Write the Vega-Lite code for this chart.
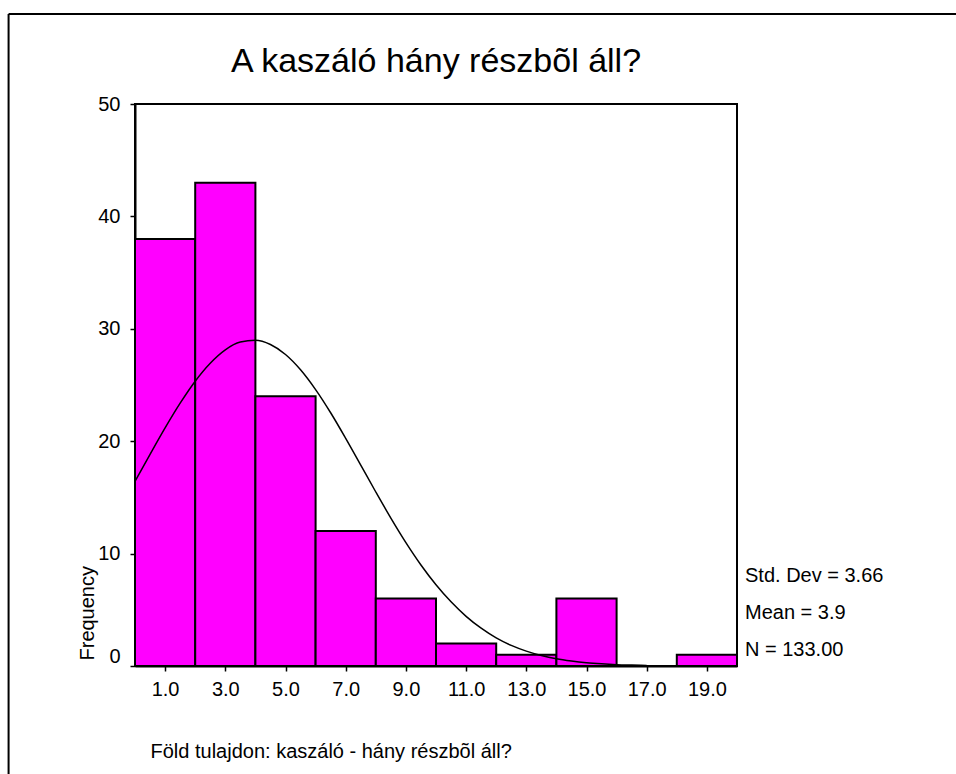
{
  "$schema": "https://vega.github.io/schema/vega-lite/v6.json",
  "width": 602,
  "height": 562,
  "autosize": {"type": "none"},
  "padding": {"left": 135, "top": 104, "right": 219, "bottom": 108},
  "background": "white",
  "title": {
    "text": "A kaszáló hány részbõl áll?",
    "font": "Liberation Sans",
    "fontSize": 34,
    "fontWeight": "normal",
    "color": "black",
    "anchor": "middle",
    "frame": "group",
    "offset": -66
  },
  "config": {
    "view": {"stroke": "black", "strokeWidth": 2},
    "font": "Liberation Sans",
    "axis": {
      "grid": false,
      "domainColor": "black",
      "domainWidth": 2,
      "tickColor": "black",
      "tickWidth": 1.5,
      "tickSize": 5,
      "labelColor": "black",
      "labelFont": "Liberation Sans",
      "labelFontSize": 20,
      "titleFont": "Liberation Sans",
      "titleFontWeight": "normal",
      "titleColor": "black",
      "titleFontSize": 20
    }
  },
  "datasets": {
    "bins": [
      {"lo": 0, "hi": 2, "count": 38},
      {"lo": 2, "hi": 4, "count": 43},
      {"lo": 4, "hi": 6, "count": 24},
      {"lo": 6, "hi": 8, "count": 12},
      {"lo": 8, "hi": 10, "count": 6},
      {"lo": 10, "hi": 12, "count": 2},
      {"lo": 12, "hi": 14, "count": 1},
      {"lo": 14, "hi": 16, "count": 6},
      {"lo": 18, "hi": 20, "count": 1}
    ],
    "curve": [
      {"x": 0, "y": 16.43}, {"x": 0.5, "y": 18.83}, {"x": 1, "y": 21.18}, {"x": 1.5, "y": 23.38},
      {"x": 2, "y": 25.34}, {"x": 2.5, "y": 26.94}, {"x": 3, "y": 28.13}, {"x": 3.5, "y": 28.82},
      {"x": 4, "y": 28.98}, {"x": 4.5, "y": 28.6}, {"x": 5, "y": 27.71}, {"x": 5.5, "y": 26.35},
      {"x": 6, "y": 24.59}, {"x": 6.5, "y": 22.53}, {"x": 7, "y": 20.25}, {"x": 7.5, "y": 17.87},
      {"x": 8, "y": 15.48}, {"x": 8.5, "y": 13.16}, {"x": 9, "y": 10.98}, {"x": 9.5, "y": 8.99},
      {"x": 10, "y": 7.23}, {"x": 10.5, "y": 5.71}, {"x": 11, "y": 4.42}, {"x": 11.5, "y": 3.36},
      {"x": 12, "y": 2.5}, {"x": 12.5, "y": 1.83}, {"x": 13, "y": 1.32}, {"x": 13.5, "y": 0.93},
      {"x": 14, "y": 0.64}, {"x": 14.5, "y": 0.44}, {"x": 15, "y": 0.29}, {"x": 15.5, "y": 0.19},
      {"x": 16, "y": 0.12}, {"x": 16.5, "y": 0.08}, {"x": 17, "y": 0.05}
    ],
    "stats": [
      {"text": "Std. Dev = 3.66\nMean = 3.9\nN = 133.00"}
    ],
    "frame": [
      {"x0": -4.2, "x1": 40, "ytop": 58.0, "ybot": -20}
    ]
  },
  "layer": [
    {
      "data": {"name": "bins"},
      "mark": {"type": "rect", "fill": "#FF00FF", "stroke": "black", "strokeWidth": 2},
      "encoding": {
        "x": {
          "field": "lo",
          "type": "quantitative",
          "scale": {"domain": [0, 20], "nice": false, "zero": false},
          "axis": {
            "values": [1, 3, 5, 7, 9, 11, 13, 15, 17, 19],
            "format": ".1f",
            "labelFlush": false,
            "labelPadding": 8,
            "title": "Föld tulajdon: kaszáló - hány részbõl áll?",
            "titleAnchor": "start",
            "titleAlign": "left",
            "titleBaseline": "alphabetic",
            "titleX": 15,
            "titleY": 91
          }
        },
        "x2": {"field": "hi"},
        "y": {
          "field": "count",
          "type": "quantitative",
          "scale": {"domain": [0, 50], "nice": false},
          "axis": {
            "values": [0, 10, 20, 30, 40, 50],
            "labelFlush": false,
            "labelBaseline": {"condition": {"test": "datum.value == 0", "value": "bottom"}, "value": "middle"},
            "labelPadding": 10,
            "title": "Frequency",
            "titleAngle": 270,
            "titleAnchor": "start",
            "titleAlign": "left",
            "titleBaseline": "middle",
            "titleX": -48,
            "titleY": 556
          }
        },
        "y2": {"datum": 0}
      }
    },
    {
      "data": {"name": "curve"},
      "mark": {"type": "line", "color": "black", "strokeWidth": 1.5, "interpolate": "monotone"},
      "encoding": {
        "x": {"field": "x", "type": "quantitative"},
        "y": {"field": "y", "type": "quantitative"}
      }
    },
    {
      "data": {"name": "stats"},
      "mark": {"type": "text", "align": "left", "baseline": "alphabetic", "dx": 8, "dy": -84, "lineBreak": "\n", "lineHeight": 37, "fontSize": 20, "font": "Liberation Sans", "color": "black"},
      "encoding": {
        "x": {"datum": 20},
        "y": {"datum": 0},
        "text": {"field": "text"}
      }
    },
    {
      "data": {"name": "frame"},
      "mark": {"type": "rule", "color": "black", "strokeWidth": 2},
      "encoding": {
        "x": {"field": "x0", "type": "quantitative"},
        "x2": {"field": "x1"},
        "y": {"field": "ytop", "type": "quantitative"}
      }
    },
    {
      "data": {"name": "frame"},
      "mark": {"type": "rule", "color": "black", "strokeWidth": 2},
      "encoding": {
        "x": {"field": "x0", "type": "quantitative"},
        "y": {"field": "ytop", "type": "quantitative"},
        "y2": {"field": "ybot"}
      }
    }
  ]
}
